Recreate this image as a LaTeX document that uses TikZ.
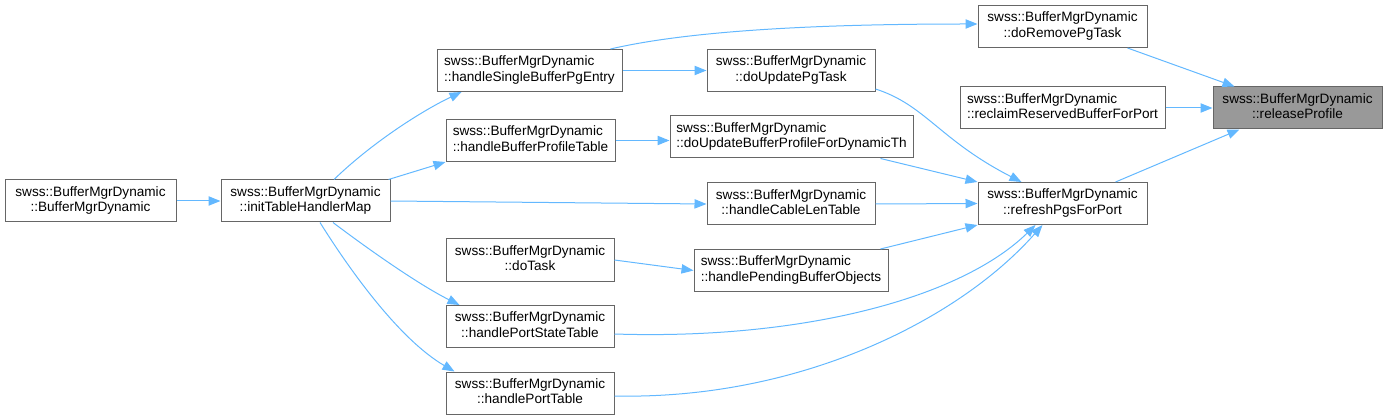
\documentclass[tikz,border=0pt]{standalone}
\usepackage{fontspec}
\setmainfont{Liberation Sans}
\usetikzlibrary{arrows.meta}
\definecolor{edgec}{HTML}{63B8FF}
\definecolor{bordc}{HTML}{666666}
\definecolor{hilite}{HTML}{999999}
\newcommand\lbl[1]{\begin{tabular}{@{}l@{}}swss::BufferMgrDynamic\\\multicolumn{1}{@{}c@{}}{#1}\end{tabular}}
\tikzset{
  fnbox/.style={draw=bordc, fill=white, line width=0.75pt, rectangle, inner sep=0pt,
    minimum height=42*0.75pt, font=\fontsize{10.2}{11.7}\selectfont},
  callarrow/.style={draw=edgec, line width=0.75pt, -{Triangle[length=9pt,width=7pt]}},
}
\renewcommand\arraystretch{0.98}
\begin{document}
\begin{tikzpicture}[x=0.75pt,y=-0.75pt]
\useasboundingbox (0,0) rectangle (1387,420);
\node[fnbox, minimum width=171*0.75pt] (bmd) at (90.5,201) {\lbl{::BufferMgrDynamic}};
\node[fnbox, minimum width=169*0.75pt] (ithm) at (305.5,201) {\lbl{::initTableHandlerMap}};
\node[fnbox, minimum width=185*0.75pt] (hsbpe) at (529.5,70.5) {\lbl{::handleSingleBufferPgEntry}};
\node[fnbox, minimum width=168*0.75pt] (dupt) at (791,70.5) {\lbl{::doUpdatePgTask}};
\node[fnbox, minimum width=169*0.75pt] (hbpt) at (530.5,140.5) {\lbl{::handleBufferProfileTable}};
\node[fnbox, minimum width=243*0.75pt] (dubp) at (791.5,137) {\lbl{::doUpdateBufferProfileForDynamicTh}};
\node[fnbox, minimum width=168*0.75pt] (hclt) at (791,204) {\lbl{::handleCableLenTable}};
\node[fnbox, minimum width=168*0.75pt] (dt) at (530,260) {\lbl{::doTask}};
\node[fnbox, minimum width=194*0.75pt] (hpbo) at (791,270.5) {\lbl{::handlePendingBufferObjects}};
\node[fnbox, minimum width=168*0.75pt] (hpst) at (530,326.5) {\lbl{::handlePortStateTable}};
\node[fnbox, minimum width=168*0.75pt] (hpt) at (530,393) {\lbl{::handlePortTable}};
\node[fnbox, minimum width=169*0.75pt] (drpt) at (1062.5,26.5) {\lbl{::doRemovePgTask}};
\node[fnbox, minimum width=205*0.75pt] (rrbf) at (1062.5,108) {\lbl{::reclaimReservedBufferForPort}};
\node[fnbox, minimum width=169*0.75pt, fill=hilite] (rp) at (1297.5,108) {\lbl{::releaseProfile}};
\node[fnbox, minimum width=169*0.75pt] (rpfp) at (1062.5,203.5) {\lbl{::refreshPgsForPort}};

\draw[callarrow] (bmd) -- (ithm);
\draw[callarrow] ([shift={(28.5,0)}]ithm.north) .. controls +(36,-35) and +(-42,20) .. ([shift={(25,0)}]hsbpe.south west);
\draw[callarrow] ([shift={(-2,0)}]ithm.north east) -- (hbpt.south west);
\draw[callarrow] (ithm.east) -- (hclt.west);
\draw[callarrow] ([shift={(27.5,0)}]ithm.south) .. controls +(37,28) and +(-40,-20) .. ([shift={(14,0)}]hpst.north west);
\draw[callarrow] ([shift={(14.5,0)}]ithm.south) .. controls +(30,48) and +(-55,-32) .. ([shift={(9,0)}]hpt.north west);
\draw[callarrow] ([shift={(-12,0)}]hsbpe.north east) .. controls +(90,-21) and +(-128,0) .. ([shift={(0,-2.5)}]drpt.west);
\draw[callarrow] (hsbpe) -- (dupt);
\draw[callarrow] (hbpt) -- (dubp.west |- hbpt);
\draw[callarrow] (dt.east) -- (hpbo.west);
\draw[callarrow] ([shift={(0,-3)}]dupt.south east) .. controls +(50,16) and +(-82,-42) .. ([shift={(44,0)}]rpfp.north west);
\draw[callarrow] ([shift={(-33,0)}]dubp.south east) -- (rpfp.north west);
\draw[callarrow] (hclt.east) -- (rpfp.west);
\draw[callarrow] ([shift={(-8,0)}]hpbo.north east) -- (rpfp.south west);
\draw[callarrow] ([shift={(0,7.5)}]hpst.east) .. controls +(186,6) and +(-76,74) .. ([shift={(58,0)}]rpfp.south west);
\draw[callarrow] ([shift={(0,3)}]hpt.east) .. controls +(186,4) and +(-83,94) .. ([shift={(65,0)}]rpfp.south west);
\draw[callarrow] ([shift={(-20,0)}]drpt.south east) -- ([shift={(22,0)}]rp.north west);
\draw[callarrow] (rrbf) -- (rp);
\draw[callarrow] ([shift={(-32,0)}]rpfp.north east) -- ([shift={(27,0)}]rp.south west);
\end{tikzpicture}
\end{document}
